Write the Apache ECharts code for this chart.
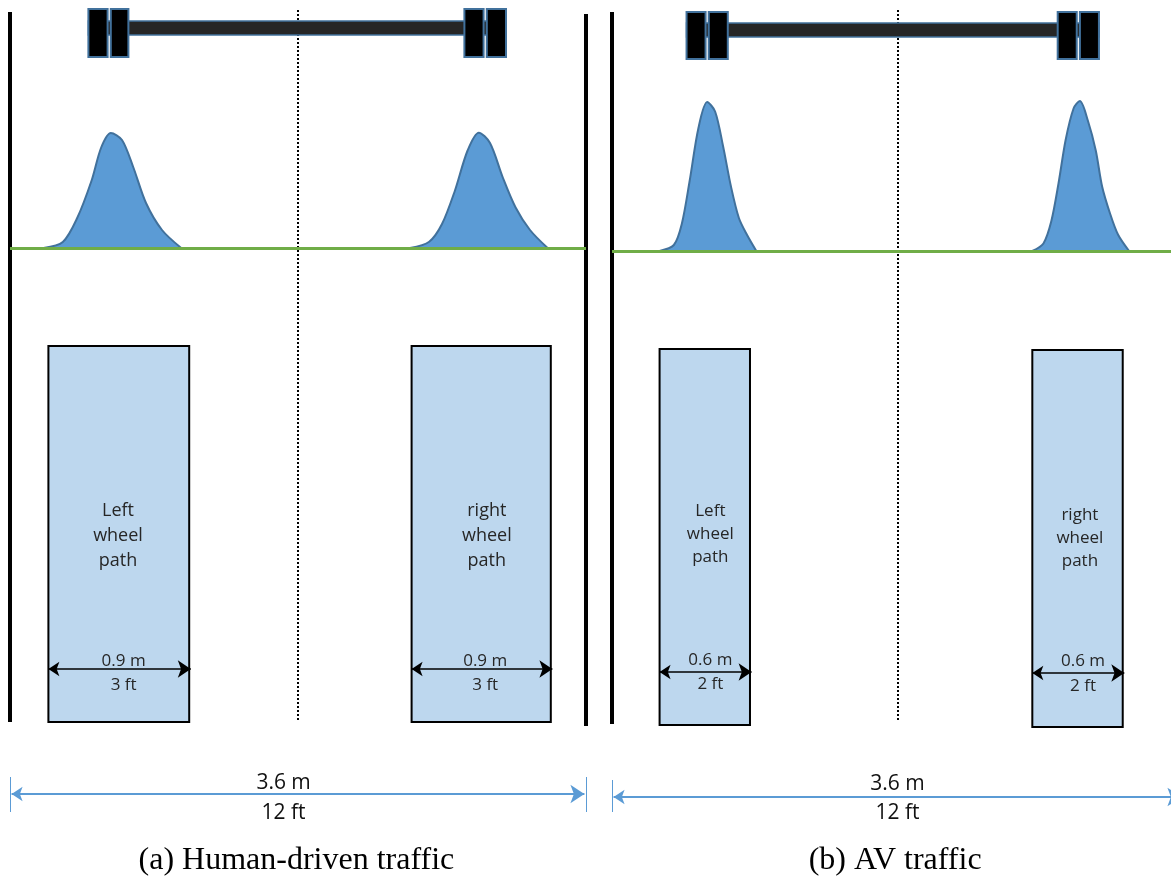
<!DOCTYPE html>
<html><head><meta charset="utf-8">
<script src="https://cdn.jsdelivr.net/npm/echarts@6/dist/echarts.min.js"></script>
<style>html,body{margin:0;padding:0;background:#fff;overflow:hidden}#c{width:1171px;height:878px}</style>
</head><body><div id="c"></div>
<script>
// ===================== DATA =====================
const panelTitles = ['(a) Human-driven traffic', '(b) AV traffic'];
const laneWidthM = 3.6;
const laneLabels = ['3.6 m', '12 ft'];
const pathLabelsA = ['0.9 m', '3 ft'];
const pathLabelsB = ['0.6 m', '2 ft'];
const pathNames = ['Left\nwheel\npath', 'right\nwheel\npath'];
// wheel-path strips, [from, to] in metres from the left lane edge
const wheelPathsA = [[0.24, 1.12], [2.51, 3.38]];
const wheelPathsB = [[0.30, 0.87], [2.65, 3.22]];
// axle tyres, [from, to] in metres
const tyresA = [[0.49, 0.61], [0.63, 0.74], [2.84, 2.96], [2.98, 3.10]];
const tyresB = [[0.47, 0.59], [0.61, 0.73], [2.81, 2.93], [2.95, 3.07]];
// lateral wander distributions: [offset m, relative frequency]
const wanderA_left = [[0.21,0],[0.33,0.04],[0.42,0.20],[0.51,0.45],[0.57,0.67],[0.63,0.767],[0.70,0.72],[0.77,0.54],[0.85,0.30],[0.95,0.12],[1.07,0]];
const wanderA_right = [[2.50,0],[2.62,0.042],[2.70,0.16],[2.78,0.38],[2.86,0.65],[2.93,0.769],[3.00,0.70],[3.08,0.47],[3.16,0.27],[3.25,0.12],[3.36,0]];
const wanderB_left = [[0.30,0],[0.39,0.04],[0.44,0.18],[0.49,0.47],[0.545,0.82],[0.60,0.993],[0.65,0.93],[0.70,0.70],[0.75,0.43],[0.80,0.22],[0.85,0.11],[0.91,0]];
const wanderB_right = [[2.65,0],[2.72,0.05],[2.77,0.20],[2.815,0.45],[2.86,0.74],[2.91,0.95],[2.95,1.0],[3.00,0.87],[3.05,0.67],[3.09,0.43],[3.14,0.25],[3.19,0.11],[3.26,0]];

// ===================== LAYOUT (positions / styles) =====================
const TXT = '#262626', SANS = '"Open Sans", "Noto Sans", sans-serif';
const chart = echarts.init(document.getElementById('c'), null, {renderer: 'canvas'});

function rectSeries(xi, rects, st, z) {
  return {
    type: 'custom', xAxisIndex: xi, yAxisIndex: xi, clip: false, silent: true, z: z || 2,
    encode: {x: [0, 1], y: [2, 3]},
    data: rects,
    renderItem: function (params, api) {
      const a = api.coord([api.value(0), api.value(2)]);
      const b = api.coord([api.value(1), api.value(3)]);
      return {type: 'rect',
        shape: {x: Math.min(a[0], b[0]), y: Math.min(a[1], b[1]), width: Math.abs(b[0] - a[0]), height: Math.abs(b[1] - a[1])},
        style: st};
    }
  };
}
function textSeries(xi, items, st) {
  return {
    type: 'custom', xAxisIndex: xi, yAxisIndex: xi, clip: false, silent: true, z: 10,
    encode: {x: 0, y: 1},
    data: items.map(function (it) { return [it[0], it[1]]; }),
    renderItem: function (params, api) {
      const it = items[params.dataIndex];
      const p = api.coord([api.value(0), api.value(1)]);
      return {type: 'text', x: p[0], y: p[1],
        style: Object.assign({text: it[2], align: 'center', verticalAlign: 'middle', fill: TXT}, st, it[3] || {})};
    }
  };
}
function linesSeries(xi, segs, ls, sym, symSize, z) {
  return {
    type: 'lines', coordinateSystem: 'cartesian2d', xAxisIndex: xi, yAxisIndex: xi, silent: true, clip: false,
    z: z || 3, symbol: sym || 'none', symbolSize: symSize || 0,
    lineStyle: Object.assign({opacity: 1, curveness: 0}, ls), polyline: false,
    data: segs.map(function (s) { return {coords: s}; })
  };
}
function curve(xi, pts) {
  return {type: 'line', xAxisIndex: xi, yAxisIndex: xi, data: pts, smooth: 0.3,
    symbol: 'none', clip: false, silent: true, z: 4,
    lineStyle: {color: '#41719C', width: 2}, areaStyle: {color: '#5B9BD5', opacity: 1}};
}

function panel(k) {
  const g = k * 2;          // layout grid index
  const c = k * 2 + 1;      // curve grid index
  const isA = k === 0;
  const paths = isA ? wheelPathsA : wheelPathsB;
  const tyres = isA ? tyresA : tyresB;
  const lab = isA ? pathLabelsA : pathLabelsB;
  const W = laneWidthM;
  const wy = isA ? [9, 57] : [12, 59], by = isA ? [21, 35] : [23, 37];
  const s = [];
  // lane edges
  const edges = isA ? [[[0, 12], [0, 722]], [[W, 14], [W, 726]]] : [[[0, 12], [0, 724]]];
  s.push(linesSeries(g, edges, {color: '#000', width: 4}));
  // centre line
  s.push(linesSeries(g, [[[W / 2, 10], [W / 2, isA ? 720 : 722]]], {color: '#000', width: 2, type: [2, 2]}));
  // axle bar then tyres
  s.push(rectSeries(g, [[tyres[0][0], tyres[3][1], by[0], by[1]]], {fill: '#262626', stroke: '#41719C', lineWidth: 1.5}, 5));
  s.push(rectSeries(g, tyres.map(function (t) { return [t[0], t[1], wy[0], wy[1]]; }), {fill: '#000', stroke: '#41719C', lineWidth: 2}, 6));
  // wheel path strips
  const ry = isA ? [[346, 722], [346, 722]] : [[349, 725], [350, 727]];
  s.push(rectSeries(g, paths.map(function (p, i) { return [p[0], p[1], ry[i][0], ry[i][1]]; }), {fill: '#BDD7EE', stroke: '#000', lineWidth: 2}, 2));
  // width arrows inside strips
  const ay = isA ? [669, 669] : [672, 673];
  s.push(linesSeries(g, paths.map(function (p, i) { return [[p[0], ay[i]], [p[1] + 0.01, ay[i]]]; }),
    {color: '#000', width: 1.5}, ['arrow', 'arrow'], [11, 13], 7));
  // lane width dimension
  const dy = isA ? 794 : 797, ty = isA ? [777, 812] : [780, 812];
  s.push(linesSeries(g, [[[0.01, dy], [W - 0.01, dy]]], {color: '#5B9BD5', width: 2}, ['arrow', 'arrow'], [11, 14], 7));
  s.push(linesSeries(g, [[[0, ty[0]], [0, ty[1]]], [[W, ty[0]], [W, ty[1]]]], {color: '#5B9BD5', width: 1}));
  // curves + ground line
  s.push(curve(c, isA ? wanderA_left : wanderB_left));
  s.push(curve(c, isA ? wanderA_right : wanderB_right));
  s.push(linesSeries(c, [[[0, 0], [W, 0]]], {color: '#70AD47', width: 3}, 'none', 0, 8));
  // texts
  const nameSt = {fontFamily: SANS, fontSize: isA ? 18 : 17, lineHeight: isA ? 25 : 23};
  const nx = isA ? [0.675, 2.98] : [0.62, 2.95];
  const ny = isA ? [536, 536] : [534, 538];
  s.push(textSeries(g, [[nx[0], ny[0], pathNames[0]], [nx[1], ny[1], pathNames[1]]], nameSt));
  const lx = isA ? [0.71, 2.97] : [0.62, 2.97];
  const ly1 = isA ? [661, 661] : [660, 661], ly2 = isA ? [685, 685] : [684, 686];
  s.push(textSeries(g, [
    [lx[0], ly1[0], lab[0]], [lx[0], ly2[0], lab[1]],
    [lx[1], ly1[1], lab[0]], [lx[1], ly2[1], lab[1]]
  ], {fontFamily: SANS, fontSize: 17}));
  const mx = isA ? 1.71 : 1.8;
  s.push(textSeries(g, [[mx, isA ? 783 : 784, laneLabels[0]], [mx, 813, laneLabels[1]]], {fontFamily: SANS, fontSize: 21, fill: '#111'}));
  s.push(textSeries(g, [[isA ? 1.79 : 1.785, 861, panelTitles[k]]], {fontFamily: '"Liberation Serif", "Times New Roman", serif', fontSize: 32, fill: '#000'}));
  return s;
}

const grids = [
  {left: 10, width: 576, top: 0, height: 878},
  {left: 10, width: 576, top: 98, height: 150},
  {left: 612, width: 571, top: 0, height: 878},
  {left: 612, width: 571, top: 101, height: 150}
].map(function (g) { g.outerBoundsMode = 'none'; g.containLabel = false; return g; });
const xAxes = grids.map(function (g, i) { return {type: 'value', gridIndex: i, min: 0, max: laneWidthM, show: false}; });
const yAxes = grids.map(function (g, i) {
  return i % 2 === 0 ? {type: 'value', gridIndex: i, min: 0, max: 878, inverse: true, show: false}
                     : {type: 'value', gridIndex: i, min: 0, max: 1, show: false};
});

chart.setOption({
  animation: false,
  backgroundColor: '#fff',
  grid: grids,
  xAxis: xAxes,
  yAxis: yAxes,
  series: panel(0).concat(panel(1))
});
</script></body></html>
